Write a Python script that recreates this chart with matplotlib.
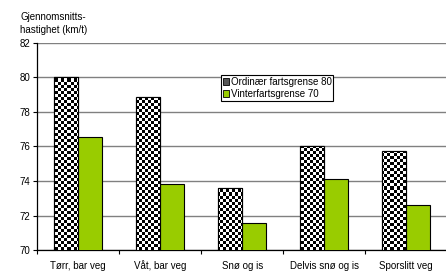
import numpy as np
import matplotlib.pyplot as plt
import matplotlib.transforms as mtransforms
from matplotlib.patches import Patch

plt.rcParams['font.family'] = ['Liberation Sans', 'DejaVu Sans']

categories = ['Tørr, bar veg', 'Våt, bar veg', 'Snø og is', 'Delvis snø og is', 'Sporslitt veg']
ordinaer_80 = [80.0, 78.85, 73.62, 76.02, 75.75]
vinter_70 = [76.56, 73.8, 71.55, 74.1, 72.6]
yticks = [70, 72, 74, 76, 78, 80, 82]

fig = plt.figure(figsize=(4.46, 2.73), dpi=100)
ax = fig.add_axes([0.083, 0.084, 0.92, 0.759])

x = np.arange(len(categories))
w = 0.293

# checker bars: white base, pattern image clipped to each bar
bars1 = ax.bar(x - w / 2, ordinaer_80, width=w, color='white',
               edgecolor='black', linewidth=0.8, zorder=3)
bars2 = ax.bar(x + w / 2, vinter_70, width=w, color='#99cc00',
               edgecolor='black', linewidth=0.8, zorder=3)

ny, nx = 69, 137
checker = (np.indices((ny, nx)).sum(axis=0) % 2).astype(float)
for b in bars1:
    im = ax.imshow(checker, cmap='gray', vmin=0.2, vmax=1.0, extent=[0, 1, 0, 1],
                   transform=ax.transAxes, interpolation='nearest', aspect='auto', zorder=3.5)
    im.set_clip_path(b)
    ax.add_patch(plt.Rectangle(b.get_xy(), b.get_width(), b.get_height(), fill=False,
                               edgecolor='black', linewidth=0.8, zorder=4))

ax.set_xlim(-0.5, len(categories) - 0.5)
ax.set_ylim(70, 82)
ax.set_yticks(yticks)
ax.set_yticklabels([str(t) for t in yticks], fontsize=7)
ax.set_xticks(np.arange(len(categories) + 1) - 0.5)
ax.set_xticklabels([])
ax.tick_params(axis='x', length=3, width=0.8, direction='out')
ax.tick_params(axis='y', length=3, width=0.8, direction='out', pad=2)

# category labels on a common baseline
trans = mtransforms.blended_transform_factory(ax.transData, fig.transFigure)
for xi, name in zip(x, categories):
    ax.text(xi, 0.016, name, transform=trans, ha='center', va='baseline', fontsize=7)

ax.grid(axis='y', color='#808080', linewidth=1, zorder=0)
ax.set_axisbelow(True)
for s in ['top', 'right']:
    ax.spines[s].set_visible(False)
ax.spines['left'].set_linewidth(0.9)
ax.spines['bottom'].set_linewidth(0.9)

fig.text(0.045, 0.955, 'Gjennomsnitts-\nhastighet (km/t)', fontsize=7, va='top', ha='left',
         linespacing=1.3)

handles = [Patch(facecolor='#555555', edgecolor='black', linewidth=0.6),
           Patch(facecolor='#99cc00', edgecolor='black', linewidth=0.6)]
leg = ax.legend(handles, ['Ordinær fartsgrense 80', 'Vinterfartsgrense 70'],
                loc='upper left', bbox_to_anchor=(0.448, 0.845), fontsize=7,
                frameon=True, fancybox=False, framealpha=1, edgecolor='black',
                handlelength=0.6, handleheight=0.6, handletextpad=0.2,
                borderpad=0.2, labelspacing=0.2, borderaxespad=0)
leg.get_frame().set_linewidth(0.8)
leg.set_zorder(5)

fig.savefig('out.png', dpi=100)
